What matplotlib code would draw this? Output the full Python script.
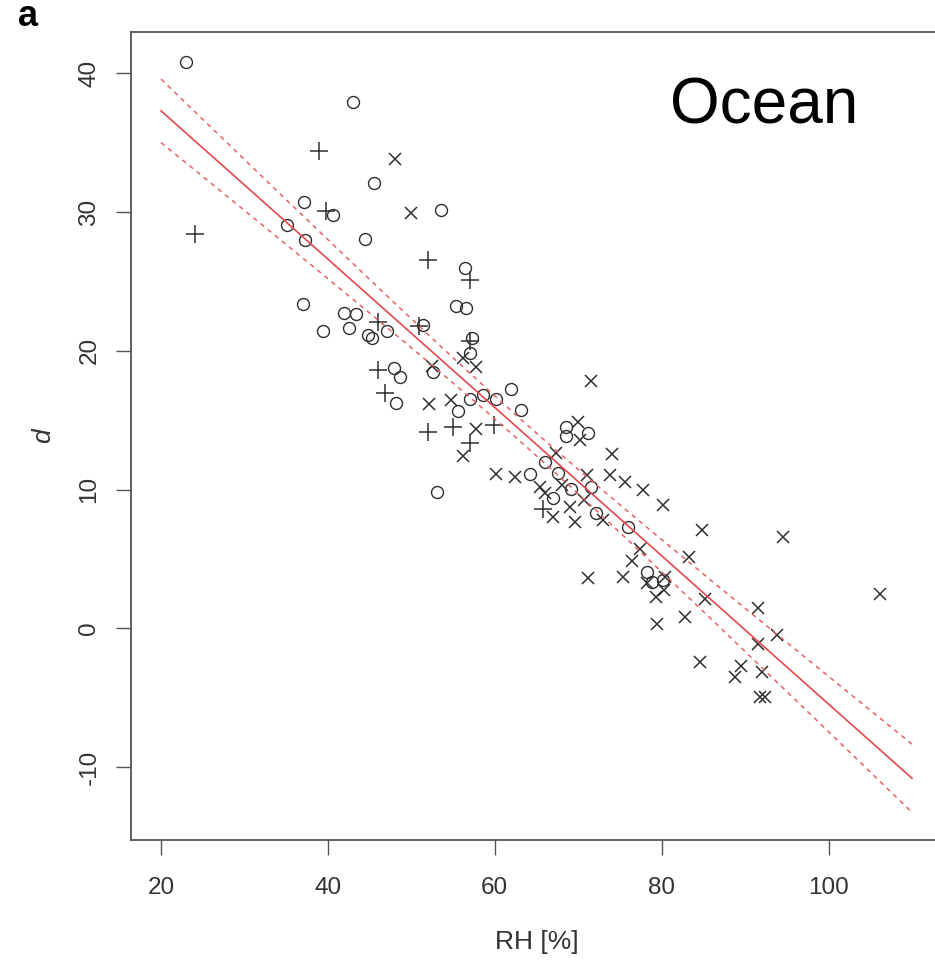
import numpy as np
import matplotlib
matplotlib.use("Agg")
import matplotlib.pyplot as plt

plt.rcParams['font.family'] = ['Liberation Sans', 'DejaVu Sans']
plt.rcParams['axes.unicode_minus'] = False

# group 1 (open circles)
rh_o = [22.97, 43.05, 45.57, 37.08, 40.56, 35.04, 37.29, 44.45, 53.58, 56.49,
        36.96, 41.97, 43.37, 55.38, 56.61, 39.36, 42.57, 44.77, 45.29, 47.09,
        51.45, 57.21, 57.03, 47.97, 48.66, 52.57, 48.18, 55.57, 57.06, 58.54,
        60.18, 61.98, 63.13, 53.10, 68.58, 68.58, 71.18, 65.98, 64.24, 67.58,
        67.03, 69.18, 71.58, 72.18, 76.00, 78.28, 78.82, 80.18]
d_o = [40.85, 37.92, 32.08, 30.71, 29.80, 29.08, 28.00, 28.07, 30.16, 25.96,
       23.38, 22.75, 22.66, 23.24, 23.09, 21.46, 21.67, 21.15, 20.91, 21.46,
       21.87, 20.89, 19.81, 18.75, 18.14, 18.48, 16.27, 15.67, 16.50, 16.82,
       16.55, 17.25, 15.72, 9.85, 14.48, 13.86, 14.06, 11.95, 11.12, 11.20,
       9.37, 10.04, 10.19, 8.29, 7.30, 4.06, 3.36, 3.48]

# group 2 (plus)
rh_p = [38.97, 39.77, 24.05, 51.97, 57.03, 45.97, 50.97, 57.06, 45.97, 46.89,
        51.97, 54.97, 59.86, 57.06, 65.77]
d_p = [34.43, 30.04, 28.41, 26.52, 25.11, 22.11, 21.80, 20.71, 18.62, 16.94,
       14.12, 14.48, 14.62, 13.34, 8.62]

# group 3 (cross)
rh_x = [48.09, 49.98, 56.25, 57.78, 52.50, 52.14, 54.78, 57.78, 56.17, 71.58,
        69.98, 70.18, 67.38, 73.99, 60.18, 62.38, 71.06, 73.78, 75.58, 77.71,
        80.11, 65.38, 66.04, 68.06, 68.98, 70.66, 66.97, 69.58, 72.98, 84.86,
        94.51, 77.38, 76.39, 83.30, 71.18, 75.38, 78.19, 80.38, 80.26, 79.30,
        85.19, 79.48, 82.84, 91.49, 93.83, 91.58, 106.19, 84.59, 89.47, 88.79,
        91.99, 91.79, 92.39]
d_x = [33.84, 29.91, 19.45, 18.80, 18.91, 16.14, 16.46, 14.33, 12.42, 17.85,
       14.90, 13.54, 12.66, 12.57, 11.12, 10.89, 11.05, 11.02, 10.57, 9.97,
       8.89, 10.19, 9.73, 10.33, 8.77, 9.25, 8.05, 7.69, 7.79, 7.11,
       6.60, 5.73, 4.87, 5.14, 3.60, 3.66, 3.24, 3.70, 2.76, 2.26,
       2.08, 0.31, 0.81, 1.44, -0.50, -1.10, 2.47, -2.41, -2.70, -3.49,
       -3.13, -4.95, -4.92]

# linear fit over all points with 95% confidence band of the mean
x_all = np.array(rh_o + rh_p + rh_x)
y_all = np.array(d_o + d_p + d_x)
n = len(x_all)
A = np.vstack([np.ones(n), x_all]).T
coef, res, _, _ = np.linalg.lstsq(A, y_all, rcond=None)
resid = y_all - A @ coef
s = np.sqrt(np.sum(resid ** 2) / (n - 2))
xbar = x_all.mean()
sxx = np.sum((x_all - xbar) ** 2)
t95 = 1.98

xf = np.linspace(20, 110, 200)
yf = coef[0] + coef[1] * xf
se = s * np.sqrt(1.0 / n + (xf - xbar) ** 2 / sxx)

fig = plt.figure(figsize=(9.35, 9.6), dpi=100)
ax = fig.add_axes([0.1401, 0.125, 0.8674, 0.842])

mk_col = '#2e2e2e'
ax.plot(rh_o, d_o, 'o', ms=8.6, mfc='none', mec=mk_col, mew=1.0, ls='none')
ax.plot(rh_p, d_p, '+', ms=12.5, mec=mk_col, mew=1.1, ls='none')
ax.plot(rh_x, d_x, 'x', ms=9.2, mec=mk_col, mew=1.1, ls='none')

ax.plot(xf, yf, color='#e5474c', lw=1.2)
ax.plot(xf, yf + t95 * se, color='#e86065', lw=1.1, ls=(0, (3, 3)))
ax.plot(xf, yf - t95 * se, color='#e86065', lw=1.1, ls=(0, (3, 3)))

ax.set_xlim(16.4, 113.6)
ax.set_ylim(-15.26, 43.0)
ax.set_xticks([20, 40, 60, 80, 100])
ax.set_yticks([-10, 0, 10, 20, 30, 40])
for sp in ax.spines.values():
    sp.set_color('#555555')
    sp.set_linewidth(1.3)
ax.tick_params(direction='out', length=11, width=1.0, color='#555555',
               labelsize=17.5, labelcolor='#333333')
ax.tick_params(axis='x', pad=16)
ax.tick_params(axis='y', pad=11)
for lab in ax.get_yticklabels():
    lab.set_rotation(90)
    lab.set_va('center')

ax.set_xlabel('RH [%]', fontsize=19, color='#333333', labelpad=22)
ax.set_ylabel('d', fontsize=19, style='italic', color='#333333', labelpad=17)

ax.text(0.664, 0.908, 'Ocean', transform=ax.transAxes, fontsize=46,
        color='black', ha='left', va='center')
fig.text(0.019, 0.983, 'a', fontsize=26, fontweight='bold', ha='left', va='center')

fig.savefig('out.png', dpi=100, facecolor='white')
